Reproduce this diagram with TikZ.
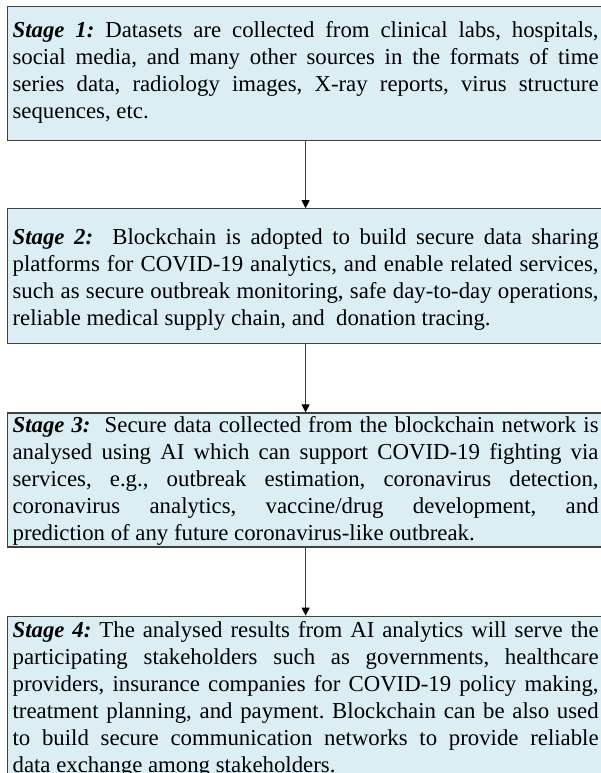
\documentclass[tikz,border=0pt]{standalone}
\usepackage{fontspec}
\setmainfont{Liberation Serif}
\usetikzlibrary{positioning,arrows.meta}

\definecolor{stagefill}{HTML}{DAEEF3}
\definecolor{stageline}{HTML}{404040}

\newcommand{\stagefont}{\fontsize{22.8pt}{27pt}\selectfont\frenchspacing}
\newcommand{\stagehead}[1]{\rightskip=8pt\relax\tolerance=10000\hyphenpenalty=10000\exhyphenpenalty=10000\textbf{\textit{Stage #1:}}}

\begin{document}
\begin{tikzpicture}[
    stagebox/.style={draw=stageline, fill=stagefill, line width=1.2pt,
      text width=586pt, inner xsep=5pt, inner ysep=0pt,
      align=justify, font=\stagefont},
    flow/.style={draw=stageline, line width=1pt, -{Triangle[length=8pt,width=8pt,color=black]}}
  ]
    \useasboundingbox (0pt,0pt) rectangle (601pt,-773pt);

	% four stages
	\node[stagebox, anchor=north west, text height=31pt, text depth=103pt] (stage1) at (7pt,-6pt)
	  {\stagehead{1} Datasets are collected from clinical labs, hospitals,\linebreak
	   social media, and many other sources in the formats of time\linebreak
	   series data, radiology images, X-ray reports, virus structure\linebreak
	   sequences, etc.};
	\node[stagebox, below=67pt of stage1, text height=36pt, text depth=99pt] (stage2)
	  {\stagehead{2}\ \ Blockchain is adopted to build secure data sharing\linebreak
	   platforms for COVID-19 analytics, and enable related services,\linebreak
	   such as secure outbreak monitoring, safe day-to-day operations,\linebreak
	   reliable medical supply chain, and\ \ donation tracing.};
	\node[stagebox, below=68pt of stage2, text height=19pt, text depth=115pt] (stage3)
	  {\stagehead{3}\ \ Secure data collected from the blockchain network is\linebreak
	   analysed using AI which can support COVID-19 fighting via\linebreak
	   services, e.g., outbreak estimation, coronavirus detection,\linebreak
	   coronavirus analytics, vaccine/drug development, and\linebreak
	   prediction of any future coronavirus-like outbreak.};
	\node[stagebox, below=68pt of stage3, text height=21pt, text depth=150pt] (stage4)
	  {\stagehead{4} The analysed results from AI analytics will serve the\linebreak
	   participating stakeholders such as governments, healthcare\linebreak
	   providers, insurance companies for COVID-19 policy making,\linebreak
	   treatment planning, and payment. Blockchain can be also used\linebreak
	   to build secure communication networks to provide reliable\linebreak
	   data exchange among stakeholders.};

	% arrows
	\draw[flow] (stage1) -- (stage2);
	\draw[flow] (stage2) -- (stage3);
	\draw[flow] (stage3) -- (stage4);

\end{tikzpicture}
\end{document}
